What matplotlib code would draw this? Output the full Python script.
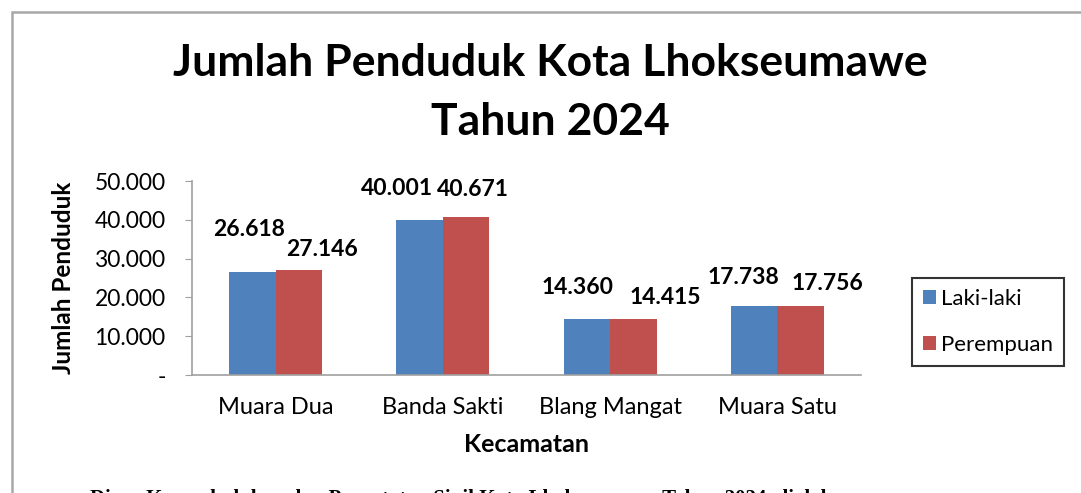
import numpy as np
import matplotlib
matplotlib.use("Agg")
from matplotlib import pyplot as plt
from matplotlib.patches import Rectangle
from matplotlib.ticker import FuncFormatter

# data
kecamatan = ["Muara Dua", "Banda Sakti", "Blang Mangat", "Muara Satu"]
laki_laki = [26618, 40001, 14360, 17738]
perempuan = [27146, 40671, 14415, 17756]
label_laki = ["26.618", "40.001", "14.360", "17.738"]
label_perempuan = ["27.146", "40.671", "14.415", "17.756"]

# label offsets in pixels (dx, dy), Excel put them a bit all over the place
off_laki = [(-3, 42), (-23, 31), (-9, 32), (-11, 29)]
off_perempuan = [(23, 20), (7, 28), (32, 22), (27, 23)]

plt.rcParams['font.family'] = ['Lato', 'DejaVu Sans']

W, H = 1081, 493
fig = plt.figure(figsize=(W / 100, H / 100), dpi=100)
fig.patch.set_facecolor("white")

# outer gray frame (only left and top visible)
fig.patches.append(Rectangle((12 / W, -0.1), 1.2, (H - 12) / H + 0.1, transform=fig.transFigure,
                             fill=False, edgecolor="#a8a8a8", linewidth=1.8))

ax = fig.add_axes([192 / W, (H - 375) / H, (861 - 192) / W, 194 / H])
x = np.arange(len(kecamatan))
w = 0.278
b1 = ax.bar(x - w / 2, laki_laki, w, color="#4F81BD", label="Laki-laki")
b2 = ax.bar(x + w / 2, perempuan, w, color="#C0504D", label="Perempuan")

for i in range(len(kecamatan)):
    ax.annotate(label_laki[i], (x[i] - w / 2, laki_laki[i]), xytext=off_laki[i],
                textcoords="offset pixels", ha="center", va="center",
                fontsize=16.5, fontweight="bold")
    ax.annotate(label_perempuan[i], (x[i] + w / 2, perempuan[i]), xytext=off_perempuan[i],
                textcoords="offset pixels", ha="center", va="center",
                fontsize=16.5, fontweight="bold")

ax.set_xlim(-0.5, len(kecamatan) - 0.5)
ax.set_ylim(0, 50000)
ax.set_yticks(np.arange(0, 50001, 10000))
ax.yaxis.set_major_formatter(FuncFormatter(lambda v, p: "-" if v == 0 else f"{int(v):,}".replace(",", ".")))
ax.set_xticks(x)
ax.set_xticklabels(kecamatan, fontsize=17)
ax.tick_params(axis="x", length=0, pad=16)
ax.tick_params(axis="y", length=5, color="#a0a0a0", labelsize=16.5, pad=14)
for s in ["top", "right"]:
    ax.spines[s].set_visible(False)
for s in ["left", "bottom"]:
    ax.spines[s].set_color("#a0a0a0")
    ax.spines[s].set_linewidth(1.2)

ax.set_ylabel("Jumlah Penduduk", fontsize=17.5, fontweight="bold", labelpad=14)
ax.set_xlabel("Kecamatan", fontsize=18, fontweight="bold", labelpad=11)

fig.text(0.509, 1 - 63 / H, "Jumlah Penduduk Kota Lhokseumawe", ha="center", va="center",
         fontsize=32, fontweight="bold")
fig.text(0.509, 1 - 122 / H, "Tahun 2024", ha="center", va="center",
         fontsize=32, fontweight="bold")

leg = fig.legend(loc="upper left", bbox_to_anchor=(912 / W, 1 - 278 / H), fontsize=16,
                 frameon=True, fancybox=False, edgecolor="black", handlelength=0.6,
                 handleheight=0.6, handletextpad=0.2, labelspacing=1.15, borderpad=0.5,
                 borderaxespad=0)
leg.get_frame().set_linewidth(1.5)

# source line, cut off at the bottom edge like in the original screenshot
fig.text(90 / W, 1 - 489 / H,
         "Dinas Kependudukan dan Pencatatan Sipil Kota Lhokseumawe Tahun 2024, diolah",
         ha="left", va="top", fontsize=15, fontweight="bold", family="Liberation Serif")

fig.savefig("out.png", dpi=100)
